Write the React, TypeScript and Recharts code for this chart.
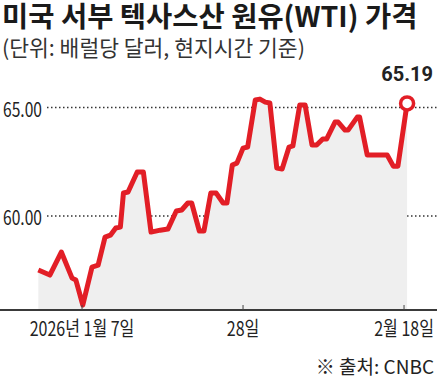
import { AreaChart, Area, XAxis, YAxis, CartesianGrid, ReferenceDot } from 'recharts'

// day of January 2026 (Feb days continue past 31)
const days = [
  1.3, 2.8, 4.3, 5.7, 6.2, 7.1, 8.3, 9.1, 10.0, 10.7, 11.4, 12.0, 12.4, 13.0, 14.2, 15.0,
  16.0, 17.2, 18.2, 19.3, 20.0, 20.8, 21.3, 22.3, 22.9, 23.8, 24.5, 25.4, 25.9, 26.6, 27.2,
  28.0, 28.6, 29.6, 30.2, 30.9, 31.5, 32.4, 33.1, 34.0, 34.5, 35.4, 36.1, 37.0, 37.6, 38.4,
  38.9, 40.0, 40.4, 41.3, 41.7, 42.9, 43.2, 44.2, 46.8, 47.6, 48.2, 49.4,
]

const prices = [
  57.51, 57.28, 58.34, 57.14, 57.05, 55.9, 57.65, 57.74, 59.03, 59.12, 59.45, 59.49, 61.06,
  61.11, 62.03, 62.03, 59.26, 59.35, 59.4, 60.23, 60.28, 60.6, 60.6, 59.31, 59.31, 61.06,
  61.06, 60.6, 60.6, 62.35, 62.44, 63.13, 63.18, 65.35, 65.39, 65.25, 65.21, 62.21, 62.17,
  63.18, 63.23, 65.12, 65.12, 63.27, 63.27, 63.55, 63.55, 64.33, 64.33, 63.96, 63.96, 64.56,
  64.56, 62.81, 62.81, 62.3, 62.3, 65.19,
]

const dayTicks = [7, 28, 49]
const dayTickLabels = ['2026년 1월 7일', '28일', '2월 18일']
const priceTicks = [60, 65]

const title = '미국 서부 텍사스산 원유(WTI) 가격'
const subtitle = '(단위: 배럴당 달러, 현지시간 기준)'
const source = '※ 출처: CNBC'

const data = days.map((t, i) => ({ t, price: prices[i] }))
const last = data[data.length - 1]

const RED = '#e21e26'
const FONT = "'Noto Sans CJK KR', sans-serif"
const AXIS_Y = 310

function PriceTick({ y, payload }: any) {
  return (
    <text
      transform={`translate(3, ${y + 9}) scale(0.78 1)`}
      fontFamily={FONT}
      fontSize={20}
      fill="#222"
    >
      {payload.value.toFixed(2)}
    </text>
  )
}

function DayTick({ x, payload }: any) {
  const i = dayTicks.indexOf(payload.value)
  return (
    <g>
      <line x1={x} x2={x} y1={AXIS_Y - 5} y2={AXIS_Y} stroke="#444" strokeWidth={1} />
      <text
        transform={`translate(${x}, ${AXIS_Y + 26}) scale(0.8 1)`}
        textAnchor="middle"
        fontFamily={FONT}
        fontSize={20}
        fill="#222"
      >
        {dayTickLabels[i]}
      </text>
    </g>
  )
}

function LastDot({ cx, cy }: any) {
  return (
    <g>
      <circle cx={cx} cy={cy} r={6.5} fill="#fff" stroke={RED} strokeWidth={3.5} />
      <text
        x={cx}
        y={cy - 22}
        textAnchor="middle"
        fontFamily="Roboto, sans-serif"
        fontWeight={700}
        fontSize={20}
        fill="#222"
      >
        {last.price.toFixed(2)}
      </text>
    </g>
  )
}

export default function App() {
  return (
    <div style={{ position: 'relative', width: 437, height: 378, background: '#fff' }}>
      <style>{'body{margin:0}'}</style>
      <div
        style={{
          position: 'absolute',
          left: 2,
          top: 0,
          fontFamily: FONT,
          fontWeight: 700,
          fontSize: 28.5,
          lineHeight: '30px',
          color: '#1a1a1a',
          whiteSpace: 'nowrap',
        }}
      >
        {title}
      </div>
      <div
        style={{
          position: 'absolute',
          left: 2,
          top: 33.6,
          fontFamily: FONT,
          fontWeight: 400,
          fontSize: 21.5,
          lineHeight: '26px',
          color: '#333',
          whiteSpace: 'nowrap',
        }}
      >
        {subtitle}
      </div>
      <AreaChart
        width={437}
        height={378}
        data={data}
        margin={{ top: 80, right: 0, bottom: 38, left: -1 }}
        style={{ position: 'absolute', left: 0, top: 0 }}
      >
        <CartesianGrid
          vertical={false}
          horizontalValues={priceTicks}
          horizontal={(p: any) => (
            <line
              key={`h-${p.index}`}
              x1={47}
              x2={437}
              y1={p.y1}
              y2={p.y2}
              stroke="#333"
              strokeWidth={1.5}
              strokeDasharray="1.5 2.5"
            />
          )}
        />
        <XAxis
          dataKey="t"
          type="number"
          domain={[-3.7, 53.3]}
          ticks={dayTicks}
          allowDataOverflow
          tickSize={0}
          tickMargin={0}
          tickLine={false}
          axisLine={{ stroke: '#3a3a3a', strokeWidth: 2 }}
          tick={<DayTick />}
          height={30}
        />
        <YAxis
          type="number"
          domain={[55.67, 66.27]}
          ticks={priceTicks}
          allowDataOverflow
          width={1}
          axisLine={false}
          tickLine={false}
          tick={<PriceTick />}
        />
        <Area
          type="linear"
          dataKey="price"
          stroke={RED}
          strokeWidth={5}
          strokeLinejoin="round"
          fill="#efefef"
          fillOpacity={1}
          dot={false}
          activeDot={false}
          isAnimationActive={false}
        />
        <ReferenceDot
          x={last.t}
          y={last.price}
          ifOverflow="visible"
          shape={(p: any) => <LastDot cx={p.cx} cy={p.cy} />}
        />
      </AreaChart>
      <div
        style={{
          position: 'absolute',
          right: 3,
          top: 354.7,
          fontFamily: FONT,
          fontSize: 19,
          lineHeight: '22px',
          color: '#222',
          whiteSpace: 'nowrap',
        }}
      >
        {source}
      </div>
    </div>
  )
}
